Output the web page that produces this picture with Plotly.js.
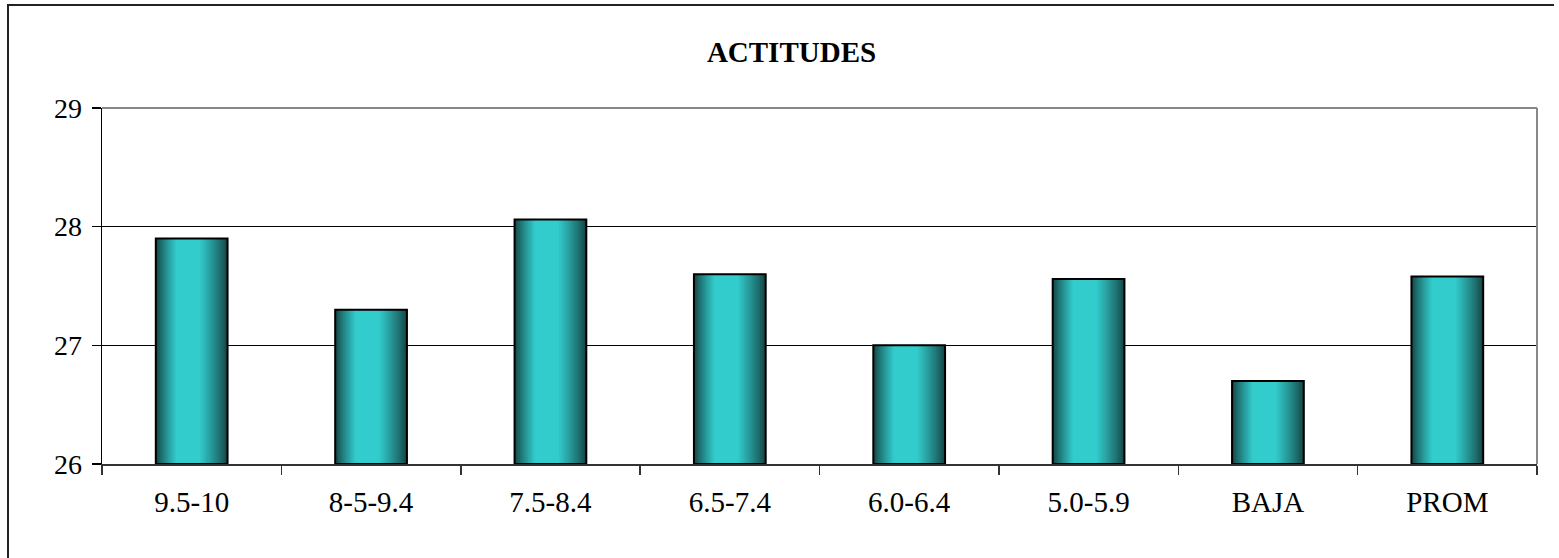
<!DOCTYPE html>
<html>
<head>
<meta charset="utf-8">
<script src="https://cdn.plot.ly/plotly-3.0.1.min.js"></script>
<style>
  html, body { margin: 0; padding: 0; background: #fff; }
  #wrap { position: relative; width: 1559px; height: 558px; overflow: hidden; }
  #chart { width: 1559px; height: 558px; }
  #frame { position: absolute; left: 7px; top: 4px; width: 1545px; height: 600px;
           border-top: 2px solid #222; border-left: 2px solid #222; pointer-events: none; }
</style>
</head>
<body>
<div id="wrap">
  <div id="chart"></div>
  <div id="frame"></div>
</div>
<script>
// ---- data ----
const categories = ["9.5-10", "8-5-9.4", "7.5-8.4", "6.5-7.4", "6.0-6.4", "5.0-5.9", "BAJA", "PROM"];
const values = [27.9, 27.3, 28.06, 27.6, 27.0, 27.56, 26.7, 27.58];
const chartTitle = "ACTITUDES";
const yTickValues = [26, 27, 28, 29];
const axisMin = 26;

// ---- styling ----
const barWidth = 0.40;
const darkColor = [22, 70, 70];
const lightColor = [51, 204, 204];
const layers = 16;
const leftRamp = 0.28;   // fraction of bar width used by left shading
const rightRamp = 0.38;  // fraction of bar width used by right shading
const FONT = "'Liberation Serif', 'Times New Roman', serif";

function mix(a, b, t) {
  return 'rgb(' + a.map((v, i) => Math.round(v + (b[i] - v) * t)).join(',') + ')';
}

const lengths = values.map(v => v - axisMin);

const traces = [];
for (let k = 0; k < layers; k++) {
  const s = k / (layers - 1);                      // 0 -> 1
  const a = leftRamp * s * barWidth;
  const b = rightRamp * s * barWidth;
  const t = Math.pow(s, 0.85);
  traces.push({
    type: 'bar',
    x: categories,
    y: lengths,
    base: axisMin,
    width: barWidth - a - b,
    offset: -barWidth / 2 + a,
    marker: { color: mix(darkColor, lightColor, t), line: { width: 0 } },
    hoverinfo: 'skip',
    showlegend: false
  });
}
// outline on top
traces.push({
  type: 'bar',
  x: categories,
  y: lengths,
  base: axisMin,
  width: barWidth,
  offset: -barWidth / 2,
  marker: { color: 'rgba(0,0,0,0)', line: { color: '#000', width: 2 } },
  showlegend: false
});

const layout = {
  width: 1559,
  height: 558,
  margin: { l: 102, r: 22, t: 108, b: 94, pad: 0 },
  paper_bgcolor: '#fff',
  plot_bgcolor: '#fff',
  barmode: 'overlay',
  showlegend: false,
  title: {
    text: '<b>' + chartTitle + '</b>',
    font: { family: FONT, size: 29, color: '#000' },
    xref: 'container', x: 791.5 / 1559, xanchor: 'center',
    yref: 'container', y: 1 - 52 / 558, yanchor: 'middle'
  },
  xaxis: {
    type: 'category',
    showline: true, linecolor: '#333', linewidth: 1.5,
    ticks: 'outside', ticklen: 9, tickcolor: '#333', tickwidth: 1.5,
    tickson: 'boundaries',
    showgrid: false, zeroline: false,
    tickfont: { family: FONT, size: 29, color: '#000' },
    ticklabelstandoff: 12,
    fixedrange: true
  },
  yaxis: {
    range: [26, 29],
    tickvals: yTickValues,
    showline: true, linecolor: '#000', linewidth: 1.5,
    ticks: 'outside', ticklen: 9, tickcolor: '#000', tickwidth: 1.5,
    showgrid: true, gridcolor: '#000', gridwidth: 1,
    zeroline: false,
    tickfont: { family: FONT, size: 28, color: '#000' },
    ticklabelstandoff: 4,
    fixedrange: true
  },
  shapes: [
    { type: 'line', xref: 'paper', yref: 'paper', x0: 0, x1: 1, y0: 1, y1: 1,
      line: { color: '#888', width: 2 }, layer: 'above' },
    { type: 'line', xref: 'paper', yref: 'paper', x0: 1, x1: 1, y0: 0, y1: 1,
      line: { color: '#888', width: 2 }, layer: 'above' }
  ]
};

Plotly.newPlot('chart', traces, layout, { displayModeBar: false, staticPlot: true });
</script>
</body>
</html>
